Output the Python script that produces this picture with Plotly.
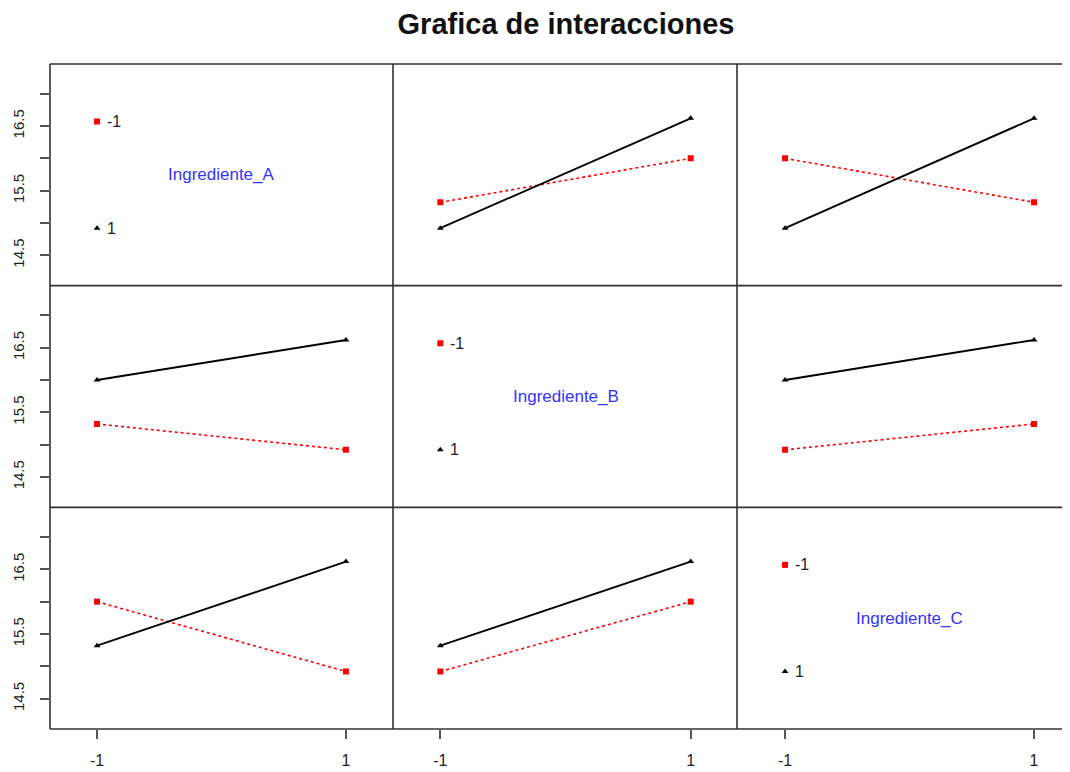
import plotly.graph_objects as go
from plotly.subplots import make_subplots

# ---- data ----
levels = [-1, 1]
level_labels = ["-1", "1"]
factors = ["Ingrediente_A", "Ingrediente_B", "Ingrediente_C"]
y_ticks = [14.5, 15.0, 15.5, 16.0, 16.5, 17.0]
y_tick_labels = ["14.5", "", "15.5", "", "16.5", ""]

# panel (row, col): red = trace level -1, black = trace level 1
ab_red = [15.32, 16.00]
ab_black = [14.92, 16.62]
ac_red = [16.00, 15.32]
ac_black = [14.92, 16.62]
ba_red = [15.32, 14.92]
ba_black = [16.00, 16.62]
bc_red = [14.92, 15.32]
bc_black = [16.00, 16.62]
ca_red = [16.00, 14.92]
ca_black = [15.32, 16.62]
cb_red = [14.92, 16.00]
cb_black = [15.32, 16.62]

legend_y = [16.57, 14.92]

panels = {
    (1, 2): (ab_red, ab_black),
    (1, 3): (ac_red, ac_black),
    (2, 1): (ba_red, ba_black),
    (2, 3): (bc_red, bc_black),
    (3, 1): (ca_red, ca_black),
    (3, 2): (cb_red, cb_black),
}

RED = "#ff0000"
BLACK = "#000000"
TXT = "#222222"
FONT = "Liberation Sans, Arial, sans-serif"

fig = make_subplots(rows=3, cols=3, horizontal_spacing=0, vertical_spacing=0)

for (r, c), (red, black) in panels.items():
    fig.add_trace(go.Scatter(x=levels, y=red, mode="lines+markers",
                             line=dict(color=RED, width=1.6, dash="dot"),
                             marker=dict(symbol="square", size=6, color=RED),
                             showlegend=False, hoverinfo="skip"), row=r, col=c)
    fig.add_trace(go.Scatter(x=levels, y=black, mode="lines+markers",
                             line=dict(color=BLACK, width=1.9),
                             marker=dict(symbol="triangle-up", size=6, color=BLACK),
                             showlegend=False, hoverinfo="skip"), row=r, col=c)

# diagonal panels: factor name + legend
for i, name in enumerate(factors):
    r = c = i + 1
    fig.add_trace(go.Scatter(x=[levels[0]], y=[legend_y[0]], mode="markers",
                             marker=dict(symbol="square", size=6, color=RED),
                             showlegend=False, hoverinfo="skip"), row=r, col=c)
    fig.add_trace(go.Scatter(x=[levels[0]], y=[legend_y[1]], mode="markers",
                             marker=dict(symbol="triangle-up", size=6, color=BLACK),
                             showlegend=False, hoverinfo="skip"), row=r, col=c)
    for yy, lab in zip(legend_y, level_labels):
        fig.add_annotation(x=levels[0], y=yy, text=lab, showarrow=False,
                           xanchor="left", xshift=8, font=dict(size=16, color=TXT, family=FONT),
                           row=r, col=c)

# layout: the page has an 8px body margin, so figure coords = page coords - 8
OFF = 8
W, H = 1070 - OFF, 772 - OFF
L, R, T = 50 - OFF, 0, 64 - OFF
B = H - (729 - OFF)
pw = W - L - R
col_px = [(50, 393), (393, 737), (737, 1070)]
xdom = [[(a - OFF - L) / pw, min(1.0, (b - OFF - L) / pw)] for a, b in col_px]
ydom = [[2 / 3, 1], [1 / 3, 2 / 3], [0, 1 / 3]]
xranges = [[-1.378, 1.378], [-1.378, 1.37], [-1.386, 1.289]]
yrange = [14.03, 17.46]

for r in range(1, 4):
    for c in range(1, 4):
        idx = (r - 1) * 3 + c
        xa = "xaxis" if idx == 1 else f"xaxis{idx}"
        ya = "yaxis" if idx == 1 else f"yaxis{idx}"
        bottom = r == 3
        left = c == 1
        fig.layout[xa].update(domain=xdom[c - 1], range=xranges[c - 1], automargin=False,
                              showgrid=False, zeroline=False, showline=False,
                              tickvals=levels if bottom else [],
                              ticktext=level_labels if bottom else [],
                              ticks="outside" if bottom else "", ticklen=9, tickwidth=1.5,
                              tickcolor="#555", ticklabelstandoff=8,
                              showticklabels=bottom,
                              tickfont=dict(size=16, color=TXT, family=FONT))
        fig.layout[ya].update(domain=ydom[r - 1], range=yrange, automargin=False,
                              showgrid=False, zeroline=False, showline=False,
                              tickvals=y_ticks if left else [],
                              ticktext=y_tick_labels if left else [],
                              ticks="outside" if left else "", ticklen=9, tickwidth=1.5,
                              tickcolor="#555", tickangle=-90, ticklabelstandoff=10,
                              showticklabels=left,
                              tickfont=dict(size=15, color=TXT, family=FONT))
        if r == c:
            fig.add_annotation(x=0, y=(yrange[0] + yrange[1]) / 2, text=factors[r - 1],
                               showarrow=False, font=dict(size=17, color="#3333ff", family=FONT),
                               row=r, col=c)

# panel borders
border = dict(color="#333333", width=1.6)
for yy in [0, 1 / 3, 2 / 3, 1]:
    fig.add_shape(type="line", xref="paper", yref="paper", x0=0, x1=1, y0=yy, y1=yy, line=border)
for xx in [0, xdom[1][0], xdom[2][0]]:
    fig.add_shape(type="line", xref="paper", yref="paper", x0=xx, x1=xx, y0=0, y1=1, line=border)

fig.update_layout(
    width=W, height=H,
    margin=dict(l=L, r=R, t=T, b=B, autoexpand=False),
    paper_bgcolor="white", plot_bgcolor="white",
    title=dict(text="<b>Grafica de interacciones</b>", x=((566 - OFF) / W), xanchor="center",
               y=1 - (24 - OFF) / H, yanchor="middle", automargin=False,
               font=dict(size=29, color="#111111", family=FONT)),
    showlegend=False,
)

fig.write_html("out.html")
